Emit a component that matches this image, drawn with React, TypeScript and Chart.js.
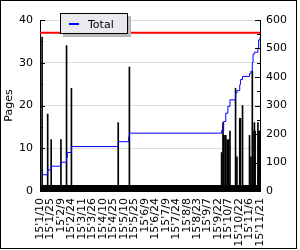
import React, { useEffect, useRef } from "react";
import { Chart, registerables } from "chart.js";

Chart.register(...registerables);

// ---- data ----
const startYear = 2015;
const startMonth = 1; // January
const startDay = 10;
const dayCount = 316; // 15'1/10 .. 15'11/21

const tickLabels = [
  "15'1/10", "15'1/25", "15'2/9", "15'2/24", "15'3/11", "15'3/26",
  "15'4/10", "15'4/25", "15'5/10", "15'5/25", "15'6/9", "15'6/24",
  "15'7/9", "15'7/24", "15'8/8", "15'8/23", "15'9/7", "15'9/22",
  "15'10/7", "15'10/22", "15'11/6", "15'11/21",
];

const barDates = [
  "15'1/10", "15'1/13", "15'1/21", "15'1/26", "15'2/9", "15'2/17", "15'2/24",
  "15'5/2", "15'5/18",
  "15'9/27", "15'9/29", "15'9/30", "15'10/2", "15'10/3", "15'10/5", "15'10/6",
  "15'10/7", "15'10/9", "15'10/17", "15'10/19", "15'10/23", "15'10/24",
  "15'10/27", "15'11/6", "15'11/8", "15'11/10", "15'11/11", "15'11/13",
  "15'11/14", "15'11/18", "15'11/19", "15'11/20", "15'11/21",
];
const barPages = [
  20, 36, 18, 12, 12, 34, 24,
  16, 29,
  9, 16, 13, 13, 13, 12, 11,
  12, 14, 24, 8, 17, 17,
  20, 13, 8, 28, 14, 16,
  14, 16, 14, 14, 14,
];

const totalDates = [
  "15'1/13", "15'1/21", "15'1/26", "15'2/9", "15'2/17", "15'2/18", "15'2/24",
  "15'5/2", "15'5/17", "15'5/18",
  "15'9/27", "15'9/30", "15'10/3", "15'10/6", "15'10/9", "15'10/17",
  "15'10/19", "15'10/23", "15'10/24", "15'10/27", "15'11/6", "15'11/8",
  "15'11/10", "15'11/11", "15'11/13", "15'11/18", "15'11/19", "15'11/21",
];
const totalValues = [
  57, 74, 87, 101, 118, 135, 156,
  173, 190, 203,
  212, 244, 273, 297, 320, 344,
  352, 373, 391, 402, 412, 420,
  450, 480, 487, 502, 530, 540,
];

const limitDates = ["15'1/10", "15'11/21"];
const limitValues = [37, 37];

// ---- helpers ----
function dayLabel(i: number): string {
  const d = new Date(startYear, startMonth - 1, startDay + i);
  return `${String(d.getFullYear()).slice(2)}'${d.getMonth() + 1}/${d.getDate()}`;
}
const categories: string[] = Array.from({ length: dayCount }, (_, i) => dayLabel(i));
const tickSet = new Set(tickLabels);

const FONT = "DejaVu Sans";

const inwardTicks = {
  id: "inwardTicks",
  afterDatasetsDraw(chart: any) {
    const { ctx, chartArea: a, scales } = chart;
    ctx.save();
    ctx.strokeStyle = "#000";
    ctx.lineWidth = 1;
    ctx.beginPath();
    const xs = scales.x;
    for (let i = 0; i < xs.ticks.length; i++) {
      const px = Math.round(xs.getPixelForTick(i)) + 0.5;
      ctx.moveTo(px, a.bottom);
      ctx.lineTo(px, a.bottom - 6);
    }
    const yl = scales.y;
    for (let v = 0; v <= 40; v += 5) {
      const py = Math.round(yl.getPixelForValue(v)) + 0.5;
      const len = v % 10 === 0 ? 5 : 3;
      ctx.moveTo(a.left, py);
      ctx.lineTo(a.left + len, py);
    }
    const yr = scales.y1;
    for (let v = 0; v <= 600; v += 50) {
      const py = Math.round(yr.getPixelForValue(v)) + 0.5;
      const len = v % 100 === 0 ? 5 : 3;
      ctx.moveTo(a.right, py);
      ctx.lineTo(a.right - len, py);
    }
    ctx.stroke();
    ctx.restore();
  },
};

export default function App() {
  const ref = useRef<HTMLCanvasElement | null>(null);

  useEffect(() => {
    document.body.style.margin = "0";
    const canvas = ref.current;
    if (!canvas) return;
    const chart = new Chart(canvas, {
      type: "bar",
      data: {
        labels: categories,
        datasets: [
          {
            type: "line",
            label: "Limit",
            data: limitDates.map((d, i) => ({ x: d, y: limitValues[i] })),
            borderColor: "#ff0000",
            borderWidth: 2,
            pointRadius: 0,
            yAxisID: "y",
            order: 1,
          } as any,
          {
            type: "line",
            label: "Total",
            data: totalDates.map((d, i) => ({ x: d, y: totalValues[i] })),
            borderColor: "#0000ff",
            borderWidth: 1,
            pointRadius: 0,
            stepped: "before",
            yAxisID: "y1",
            order: 2,
          } as any,
          {
            type: "bar",
            label: "Pages",
            data: barDates.map((d, i) => ({ x: d, y: barPages[i] })),
            backgroundColor: "#000",
            barThickness: 1,
            yAxisID: "y",
            order: 3,
          } as any,
        ],
      },
      options: {
        responsive: false,
        animation: false,
        layout: { padding: { top: 20, left: 0, right: 0, bottom: 0 } },
        plugins: { legend: { display: false }, tooltip: { enabled: false } },
        scales: {
          x: {
            type: "category",
            offset: false,
            grid: { display: false, drawTicks: false },
            border: { display: true, color: "#000", width: 1 },
            ticks: {
              autoSkip: false,
              minRotation: 90,
              maxRotation: 90,
              padding: 7,
              color: "#000",
              font: { family: FONT, size: 11 },
              callback: function (this: any, v: any) {
                const l = this.getLabelForValue(v);
                return tickSet.has(l) ? l : "";
              },
            },
            afterFit(s: any) {
              s.height = 59;
            },
          },
          y: {
            position: "left",
            min: 0,
            max: 40,
            ticks: { stepSize: 10, padding: 7, color: "#000", font: { family: FONT, size: 11 } },
            grid: { color: "#dcdcdc", drawTicks: false },
            border: { display: true, color: "#000", width: 1 },
            title: {
              display: true,
              text: "Pages",
              color: "#000",
              font: { family: FONT, size: 11 },
              padding: { top: 3, bottom: 0 },
            },
            afterFit(s: any) {
              s.width = 40;
            },
          },
          y1: {
            position: "right",
            min: 0,
            max: 600,
            ticks: { stepSize: 100, padding: 6, color: "#000", font: { family: FONT, size: 11 } },
            grid: { drawOnChartArea: false, drawTicks: false },
            border: { display: true, color: "#000", width: 1 },
            afterFit(s: any) {
              s.width = 40;
            },
          },
        },
      } as any,
      plugins: [inwardTicks],
    });
    return () => chart.destroy();
  }, []);

  return (
    <div style={{ position: "relative", width: 300, height: 250, background: "#fff" }}>
      <canvas ref={ref} width={300} height={250} style={{ display: "block" }} />
      <div
        style={{
          position: "absolute",
          left: 0,
          top: 0,
          width: 295,
          height: 247,
          border: "1px solid #000",
          pointerEvents: "none",
        }}
      />
      <div
        style={{
          position: "absolute",
          left: 60,
          top: 13,
          width: 66,
          height: 19,
          background: "#eae8f0",
          border: "1px solid #000",
          boxShadow: "3px 3px 0 #b8b8b8",
          fontFamily: FONT,
          fontSize: 11,
          color: "#000",
        }}
      >
        <span
          style={{ position: "absolute", left: 8, top: 9, width: 10, height: 2, background: "#0000ff" }}
        />
        <span style={{ position: "absolute", left: 27, top: 4, lineHeight: "13px", whiteSpace: "nowrap" }}>
          Total
        </span>
      </div>
    </div>
  );
}
